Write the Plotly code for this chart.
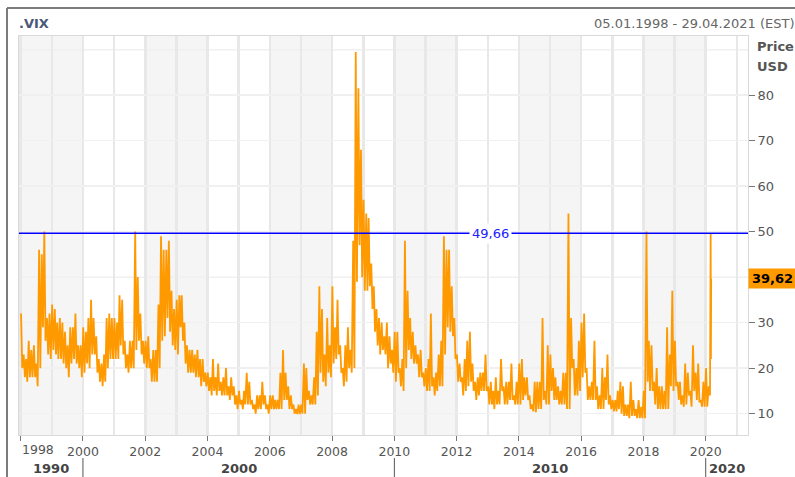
import plotly.graph_objects as go

# Monthly high / low readings (Jan 1998 .. Jan 2020), one row per year
month_high = [
    32, 23, 22, 26, 24, 25, 21, 46, 45, 50, 31, 32,   # 1998
    34, 33, 30, 31, 30, 28, 25, 29, 29, 32, 25, 25,   # 1999
    29, 28, 31, 35, 31, 27, 22, 21, 23, 31, 32, 31,   # 2000
    31, 30, 36, 35, 26, 23, 26, 26, 50, 40, 32, 26,   # 2001
    26, 27, 22, 24, 24, 34, 49, 46, 46, 48, 37, 33,   # 2002
    35, 36, 36, 30, 25, 24, 24, 23, 24, 22, 22, 19,   # 2003
    19, 18, 22, 18, 21, 17, 18, 20, 16, 18, 16, 14,   # 2004
    15, 13, 15, 19, 17, 13, 12, 14, 14, 17, 14, 12,   # 2005
    14, 14, 13, 13, 19, 24, 19, 16, 14, 12, 11, 12,   # 2006
    12, 21, 20, 15, 14, 18, 28, 38, 33, 23, 31, 25,   # 2007
    38, 29, 35, 25, 20, 25, 29, 24, 48, 89.5, 81.5, 68,   # 2008
    57, 54, 53, 43, 38, 33, 31, 30, 27, 30, 27, 24,   # 2009
    28, 28, 20, 22, 48, 37, 31, 28, 25, 23, 24, 19,   # 2010
    20, 22, 32, 18, 19, 23, 26, 49, 46, 46, 38, 31,   # 2011
    23, 21, 18, 22, 26, 28, 21, 17, 18, 19, 19, 23,   # 2012
    16, 17, 15, 18, 15, 22, 16, 17, 17, 21, 14, 17,   # 2013
    21, 22, 18, 18, 14, 12, 17, 17, 17, 31, 15, 25,   # 2014
    23, 20, 18, 16, 15, 19, 19, 54, 31, 22, 20, 26,   # 2015
    30, 32, 20, 16, 17, 26, 16, 14, 20, 18, 23, 14,   # 2016
    13, 13, 15, 17, 16, 12, 12, 17, 13, 11, 13, 11.5, # 2017
    15, 50, 26, 25, 17, 20, 16, 16, 15, 29, 23, 37,   # 2018
    26, 17, 17, 14, 21, 19, 15, 25, 19, 21, 13, 17,   # 2019
    20,                                               # 2020-01
]
month_low = [
    20, 18, 17, 18, 18, 18, 16, 20, 29, 26, 23, 22,   # 1998
    24, 23, 22, 22, 21, 20, 18, 21, 22, 21, 20, 18,   # 1999
    19, 21, 20, 23, 23, 19, 17, 16, 17, 20, 22, 22,   # 2000
    22, 22, 25, 23, 20, 19, 20, 20, 24, 26, 23, 21,   # 2001
    20, 20, 17, 17, 17, 20, 26, 27, 31, 28, 25, 24,   # 2002
    23, 29, 26, 21, 19, 19, 19, 18, 18, 16, 17, 16,   # 2003
    15, 14, 15, 14, 15, 14, 14, 14, 13, 14, 12, 11,   # 2004
    12, 11, 12, 12, 12, 11, 10, 11, 11, 12, 11, 10,   # 2005
    11, 11, 11, 11, 11, 13, 13, 11, 11, 10, 9.9, 9.9, # 2006
    10, 10, 13, 12, 12, 12, 14, 19, 17, 16, 19, 18,   # 2007
    21, 22, 23, 19, 16, 17, 20, 19, 20, 39, 47, 40,   # 2008
    37, 37, 38, 33, 28, 25, 23, 24, 23, 20, 21, 19,   # 2009
    17, 19, 16, 15, 20, 24, 22, 21, 21, 18, 18, 16,   # 2010
    15, 15, 16, 14, 15, 16, 16, 23, 29, 28, 27, 22,   # 2011
    17, 17, 14, 15, 16, 17, 15, 13, 14, 15, 15, 15,   # 2012
    12, 12, 11, 12, 12, 15, 12, 12, 13, 13, 12, 12,   # 2013
    12, 13, 14, 13, 11, 10.5, 10.3, 11, 11, 13, 12, 12,  # 2014
    15, 13, 13, 12, 12, 12, 11, 11, 20, 14, 14, 15,   # 2015
    18, 19, 13, 13, 13, 13, 11, 11, 11, 13, 12, 11,   # 2016
    10.5, 10.5, 11, 10, 9.5, 9.5, 9, 9.5, 9.5, 9, 9, 9,  # 2017
    9, 17, 15, 15, 12, 11, 11, 11, 11, 11, 16, 15,    # 2018
    16, 13, 12, 11.5, 12, 14, 11.5, 15, 13, 12.5, 11.5, 11.5,  # 2019
    11.5,                                             # 2020-01
]
tail_dates = ["2020-02-05", "2020-02-20", "2020-02-28", "2020-03-02", "2020-03-04", "2020-03-05"]
tail_values = [16, 14, 49.66, 22, 44, 39.62]

last_price = 39.62
ref_level = 49.66

year_tick_dates = [f"{y}-01-01" for y in range(1998, 2021, 2)]
year_tick_text = ["" if y == 1998 else str(y) for y in range(1998, 2021, 2)]
decade_labels = ["1990", "2000", "2010", "2020"]
decade_centers = ["1998-12-20", "2005-01-01", "2015-01-01", "2020-09-01"]
decade_bounds = ["2000-01-01", "2010-01-01", "2020-01-01"]
shade_bands = [("1997-12-01", "2000-01-01"), ("2002-01-01", "2004-01-01"),
               ("2006-01-01", "2008-01-01"), ("2010-01-01", "2012-01-01"),
               ("2014-01-01", "2016-01-01"), ("2018-01-01", "2020-01-01")]

# build series
xs, ys = [], []
for i in range(len(month_high)):
    yr = 1998 + i // 12
    mo = i % 12 + 1
    xs += [f"{yr}-{mo:02d}-05", f"{yr}-{mo:02d}-19"]
    ys += [month_high[i], month_low[i]]
xs += tail_dates
ys += tail_values

FONT = "DejaVu Sans"
fig = go.Figure(go.Scatter(x=xs, y=ys, mode="lines",
                           line=dict(color="#ff9900", width=1.8),
                           hoverinfo="skip"))

H_PLOT = 477 - 36 - 42
def py(px):
    return (435 - px) / H_PLOT
def pxx(px):
    return (px - 19) / 729

shapes = []
for a, b in shade_bands:
    shapes.append(dict(type="rect", xref="x", yref="paper", x0=a, x1=b, y0=0, y1=1,
                       fillcolor="#f5f5f5", line=dict(width=0), layer="below"))
for gv in [40, 90]:
    shapes.append(dict(type="line", xref="paper", yref="y", x0=0, x1=1, y0=gv, y1=gv,
                       line=dict(color="#f0f0f0", width=1.5), layer="below"))
# reference level
shapes.append(dict(type="line", xref="paper", yref="y", x0=0, x1=1, y0=ref_level, y1=ref_level,
                   line=dict(color="#0000ff", width=1.5)))
# decade separators
for d in decade_bounds:
    shapes.append(dict(type="line", xref="x", yref="paper", x0=d, x1=d,
                       y0=py(458), y1=py(477), line=dict(color="#555", width=1)))
# outer frame
shapes.append(dict(type="line", xref="paper", yref="paper", x0=pxx(7), x1=pxx(7),
                   y0=py(480), y1=py(8), line=dict(color="#7c7c7c", width=2)))
shapes.append(dict(type="line", xref="paper", yref="paper", x0=pxx(7), x1=pxx(800),
                   y0=py(8), y1=py(8), line=dict(color="#7c7c7c", width=2)))

annotations = [
    dict(xref="x", yref="y", x="2013-02-06", y=ref_level, text="49,66", showarrow=False,
         bgcolor="white", borderpad=2, font=dict(family=FONT, size=13, color="#2020ff")),
    dict(xref="paper", yref="y", x=1, xanchor="left", y=last_price, yanchor="middle",
         text="<b>39,62</b>", showarrow=False, bgcolor="#ff9900", width=43, borderpad=2,
         font=dict(family=FONT, size=13, color="#000")),
    dict(xref="paper", yref="paper", x=pxx(755), xanchor="left", y=py(46), yanchor="middle",
         text="<b>Price</b>", showarrow=False, font=dict(family=FONT, size=13, color="#555")),
    dict(xref="paper", yref="paper", x=pxx(755), xanchor="left", y=py(66), yanchor="middle",
         text="<b>USD</b>", showarrow=False, font=dict(family=FONT, size=13, color="#555")),
    dict(xref="paper", yref="paper", x=pxx(17), xanchor="left", y=py(23), yanchor="middle",
         text="<b>.VIX</b>", showarrow=False, font=dict(family=FONT, size=13, color="#4a5878")),
    dict(xref="paper", yref="paper", x=pxx(797), xanchor="right", y=py(23), yanchor="middle",
         text="05.01.1998 - 29.04.2021 (EST)", showarrow=False,
         font=dict(family=FONT, size=13, color="#666")),
    dict(xref="x", yref="paper", x="1997-12-20", xanchor="left", y=py(449), yanchor="middle",
         text="1998", showarrow=False, font=dict(family=FONT, size=12.5, color="#555")),
]
for lab, c in zip(decade_labels, decade_centers):
    annotations.append(dict(xref="x", yref="paper", x=c, y=py(468), yanchor="middle",
                            text=f"<b>{lab}</b>", showarrow=False,
                            font=dict(family=FONT, size=13, color="#444")))

fig.update_layout(
    width=795, height=477,
    margin=dict(l=19, r=47, t=36, b=42, autoexpand=False),
    paper_bgcolor="white", plot_bgcolor="white",
    showlegend=False, hovermode=False,
    font=dict(family=FONT, size=12.5, color="#555"),
    shapes=shapes, annotations=annotations,
)
fig.update_xaxes(
    type="date", range=["1997-12-12", "2021-05-11"], automargin=False,
    tickvals=year_tick_dates, ticktext=year_tick_text,
    ticks="outside", ticklen=5, tickwidth=1, tickcolor="#777",
    showgrid=True, gridcolor="#e8e8e8", gridwidth=2.5,
    minor=dict(tick0="1998-01-01", dtick="M12", showgrid=True, gridcolor="#e8e8e8",
               gridwidth=2.5, ticks=""),
    showline=True, linecolor="#d9d9d9", linewidth=1, mirror=True, zeroline=False,
    tickfont=dict(family=FONT, size=12.5, color="#555"),
)
fig.update_yaxes(
    side="right", range=[5.3, 93.0], automargin=False,
    tickvals=[10, 20, 30, 50, 60, 70, 80],
    ticks="outside", ticklen=6, tickwidth=1, tickcolor="#777",
    showgrid=True, gridcolor="#f0f0f0", gridwidth=1.5,
    showline=True, linecolor="#d9d9d9", linewidth=1, mirror=True, zeroline=False,
    tickfont=dict(family=FONT, size=13, color="#555"),
)

fig.write_html(
    "out.html",
    config={"displayModeBar": False, "staticPlot": True},
    post_script="document.body.style.margin='0';document.body.style.padding='0';"
                "document.body.style.overflow='hidden';"
                "document.documentElement.style.overflow='hidden';",
)
